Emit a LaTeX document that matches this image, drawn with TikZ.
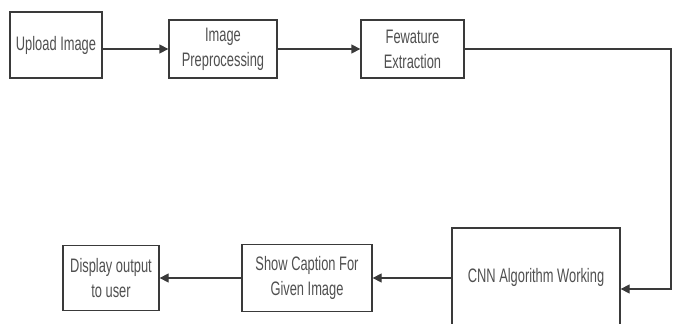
\documentclass[tikz,border=0pt]{standalone}
\usepackage{fontspec}
\newfontfamily\flowfont{Liberation Sans}[FakeStretch=0.66]
\usetikzlibrary{arrows.meta,positioning,calc}
\definecolor{lineGray}{HTML}{3A3A3A}
\definecolor{textGray}{HTML}{505050}
\tikzset{
  box/.style={draw=lineGray, line width=1.3pt, fill=white, align=center,
              font=\flowfont\fontsize{19.5}{25}\selectfont, text=textGray,
              inner sep=0pt, minimum width=#1},
  box/.default=100pt,
  arr/.style={-{Triangle[length=9pt,width=9pt]}, lineGray, line width=1.3pt},
}
\begin{document}
\begin{tikzpicture}[x=1pt,y=-1pt]
    \useasboundingbox (0,0) rectangle (686,324);
    \clip (0,0) rectangle (686,324);
    \node[box=92pt, minimum height=66pt] (upload) at (56,45) {Upload Image};
    \node[box=108pt, minimum height=58pt] (prep) at (223,49) {Image\\Preprocessing};
    \node[box=103pt, minimum height=58pt] (feat) at (412.5,49) {Fewature\\Extraction};
    \node[box=168pt, minimum height=98pt] (cnn) at (536,277) {CNN Algorithm Working};
    \node[box=130pt, minimum height=67pt] (caption) at (307,278) {Show Caption For\\Given Image};
    \node[box=96pt, minimum height=65pt] (display) at (111,278) {Display output\\to user};
    \coordinate (turn) at (671,289);
    \draw[arr] (upload.east |- prep.west) -- (prep.west);
    \draw[arr] (prep.east) -- (feat.west);
    \draw[arr] (feat.east) -| (turn) -- (turn -| cnn.east);
    \draw[arr] (cnn.west |- caption.east) -- (caption.east);
    \draw[arr] (caption.west) -- (display.east);
  \end{tikzpicture}
\end{document}
